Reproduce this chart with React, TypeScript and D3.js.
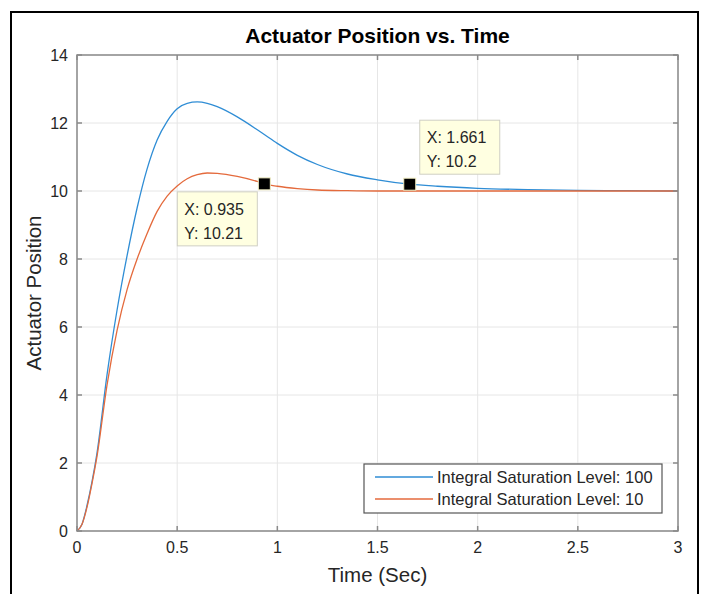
import React from 'react';
import * as d3 from 'd3';

// time samples (s)
const timeSec = [0, 0.025, 0.05, 0.075, 0.1, 0.15, 0.2, 0.25, 0.3, 0.35, 0.4, 0.45, 0.5, 0.55, 0.6, 0.65, 0.7, 0.8, 0.9, 0.935, 1.0, 1.1, 1.2, 1.35, 1.5, 1.661, 1.8, 2.0, 2.25, 2.5, 2.75, 3.0];
// Integral Saturation Level: 100
const level100 = [0, 0.2, 0.75, 1.45, 2.3, 4.6, 6.5, 8.1, 9.5, 10.65, 11.5, 12.05, 12.42, 12.58, 12.62, 12.58, 12.48, 12.18, 11.8, 11.66, 11.4, 11.05, 10.78, 10.5, 10.33, 10.2, 10.14, 10.08, 10.04, 10.02, 10.01, 10.0];
// Integral Saturation Level: 10
const level10 = [0, 0.2, 0.7, 1.4, 2.2, 4.3, 5.9, 7.1, 8.0, 8.75, 9.4, 9.85, 10.15, 10.36, 10.48, 10.53, 10.52, 10.43, 10.28, 10.21, 10.14, 10.07, 10.03, 10.01, 10.0, 10.0, 10.0, 10.0, 10.0, 10.0, 10.0, 10.0];

const seriesNames = ['Integral Saturation Level: 100', 'Integral Saturation Level: 10'];
const seriesColors = ['#2f8dd5', '#e46a3c'];
const xTicks = [0, 0.5, 1, 1.5, 2, 2.5, 3];
const yTicks = [0, 2, 4, 6, 8, 10, 12, 14];

// data cursors: [series index, x, y]
const tipSeries = [1, 0];
const tipX = [0.935, 1.661];
const tipY = [10.21, 10.2];

const W = 709;
const H = 594;
const margin = { top: 55, right: 31, bottom: 63, left: 77 };
const font = '"Liberation Sans", Arial, Helvetica, sans-serif';
const textColor = '#262626';
const axisColor = '#8a8a8a';

const App = () => {
  const innerW = W - margin.left - margin.right;
  const innerH = H - margin.top - margin.bottom;

  const x = d3.scaleLinear().domain([0, 3]).range([0, innerW]);
  const y = d3.scaleLinear().domain([0, 14]).range([innerH, 0]);

  const series = [level100, level10];
  const line = d3
    .line<number>()
    .x((_, i) => x(timeSec[i]))
    .y((d) => y(d))
    .curve(d3.curveMonotoneX);

  const tickLen = 5;

  return (
    <div style={{ position: 'absolute', left: 0, top: 0 }}>
      <svg width={W} height={H} style={{ display: 'block', background: '#fff' }} fontFamily={font}>
        {/* figure frame */}
        <rect x={11} y={12} width={687} height={620} fill="none" stroke="#000" strokeWidth={2} />

        <text x={margin.left + innerW / 2} y={43} textAnchor="middle" fontSize={21} fontWeight="bold" fill="#000">
          Actuator Position vs. Time
        </text>

        <g transform={`translate(${margin.left}, ${margin.top})`}>
          {/* grid */}
          {xTicks.map((t) => (
            <line key={`gx-${t}`} x1={x(t)} x2={x(t)} y1={0} y2={innerH} stroke="#e6e6e6" strokeWidth={1} />
          ))}
          {yTicks.map((t) => (
            <line key={`gy-${t}`} x1={0} x2={innerW} y1={y(t)} y2={y(t)} stroke="#e6e6e6" strokeWidth={1} />
          ))}

          {/* curves */}
          {series.map((s, i) => (
            <path key={`s-${i}`} d={line(s) || ''} fill="none" stroke={seriesColors[i]} strokeWidth={1.3} />
          ))}

          {/* axes box */}
          <rect x={0} y={0} width={innerW} height={innerH} fill="none" stroke={axisColor} strokeWidth={1.5} />
          {xTicks.map((t) => (
            <g key={`tx-${t}`}>
              <line x1={x(t)} x2={x(t)} y1={innerH} y2={innerH - tickLen} stroke={axisColor} strokeWidth={1.5} />
              <line x1={x(t)} x2={x(t)} y1={0} y2={tickLen} stroke={axisColor} strokeWidth={1.5} />
              <text x={x(t)} y={innerH + 22} textAnchor="middle" fontSize={16} fill={textColor}>
                {t}
              </text>
            </g>
          ))}
          {yTicks.map((t) => (
            <g key={`ty-${t}`}>
              <line x1={0} x2={tickLen} y1={y(t)} y2={y(t)} stroke={axisColor} strokeWidth={1.5} />
              <line x1={innerW} x2={innerW - tickLen} y1={y(t)} y2={y(t)} stroke={axisColor} strokeWidth={1.5} />
              <text x={-9} y={y(t)} dy="0.35em" textAnchor="end" fontSize={16} fill={textColor}>
                {t}
              </text>
            </g>
          ))}

          {/* data tips */}
          {tipX.map((tx, i) => {
            const px = x(tx);
            const py = y(tipY[i]);
            const below = tipSeries[i] === 1;
            const bx = below ? px - 87 : px + 10;
            const by = below ? py + 8 : py - 64;
            return (
              <g key={`tip-${i}`}>
                <rect x={bx} y={by} width={80} height={54} fill="#ffffe1" stroke="#cfcfc4" strokeWidth={1} />
                <text x={bx + 7} y={by + 23} fontSize={16} fill={textColor}>{`X: ${tx}`}</text>
                <text x={bx + 7} y={by + 47} fontSize={16} fill={textColor}>{`Y: ${tipY[i]}`}</text>
                <rect x={px - 6} y={py - 6} width={12} height={12} fill="#000" stroke="#f3efc4" strokeWidth={1} />
              </g>
            );
          })}

          {/* legend */}
          <g transform={`translate(${innerW - 314}, ${innerH - 67})`}>
            <rect x={0} y={0} width={298} height={49} fill="#fff" stroke="#555" strokeWidth={1.2} />
            {seriesNames.map((n, i) => (
              <g key={`lg-${i}`} transform={`translate(0, ${13 + i * 22})`}>
                <line x1={11} x2={69} y1={0} y2={0} stroke={seriesColors[i]} strokeWidth={1.5} />
                <text x={73} y={0} dy="0.35em" fontSize={16.5} fill={textColor}>
                  {n}
                </text>
              </g>
            ))}
          </g>
        </g>

        {/* axis labels */}
        <text x={margin.left + innerW / 2} y={582} textAnchor="middle" fontSize={20.5} fill={textColor}>
          Time (Sec)
        </text>
        <text transform={`translate(41, ${margin.top + innerH / 2}) rotate(-90)`} textAnchor="middle" fontSize={20.5} fill={textColor}>
          Actuator Position
        </text>
      </svg>
    </div>
  );
};

export default App;
